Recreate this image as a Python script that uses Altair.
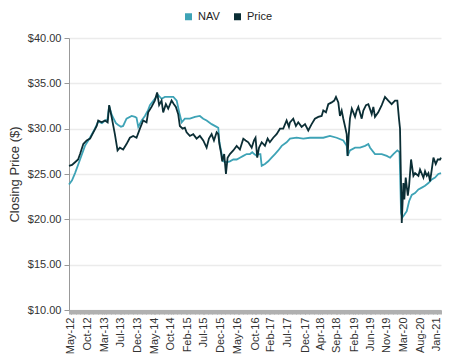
import altair as alt
import pandas as pd

# ---- data ----
price_dates = [
    "2012-05-14", "2012-06-09", "2012-07-05", "2012-07-31", "2012-08-17", "2012-09-14", "2012-10-13",
    "2012-11-11", "2012-12-09", "2013-01-07", "2013-01-20", "2013-02-18", "2013-03-19", "2013-04-11",
    "2013-04-24", "2013-05-15", "2013-06-12", "2013-07-05", "2013-07-25", "2013-08-22", "2013-09-20",
    "2013-10-19", "2013-11-16", "2013-12-15", "2014-01-13", "2014-02-10", "2014-03-11", "2014-03-25",
    "2014-04-23", "2014-05-21", "2014-06-10", "2014-06-27", "2014-07-18", "2014-08-01", "2014-08-24",
    "2014-09-13", "2014-10-12", "2014-11-01", "2014-11-18", "2014-12-08", "2014-12-22", "2015-01-15",
    "2015-02-03", "2015-02-18", "2015-03-18", "2015-04-16", "2015-05-15", "2015-06-12", "2015-07-11",
    "2015-08-09", "2015-08-29", "2015-09-21", "2015-10-11", "2015-11-03", "2015-11-17", "2015-11-27",
    "2015-12-10", "2015-12-21", "2016-01-07", "2016-01-22", "2016-02-05", "2016-02-25", "2016-03-25",
    "2016-04-23", "2016-05-21", "2016-06-19", "2016-07-09", "2016-08-01", "2016-08-30", "2016-09-19",
    "2016-10-02", "2016-10-17", "2016-11-01", "2016-11-24", "2016-12-22", "2017-01-14", "2017-02-02",
    "2017-03-03", "2017-04-01", "2017-04-30", "2017-05-28", "2017-06-26", "2017-07-16", "2017-07-25",
    "2017-08-22", "2017-09-14", "2017-10-04", "2017-11-02", "2017-12-01", "2017-12-29", "2018-01-27",
    "2018-02-24", "2018-03-25", "2018-04-23", "2018-05-07", "2018-05-30", "2018-06-19", "2018-07-18",
    "2018-08-09", "2018-08-24", "2018-09-13", "2018-09-27", "2018-10-12", "2018-10-26", "2018-11-09",
    "2018-11-24", "2018-12-02", "2018-12-11", "2018-12-22", "2019-01-07", "2019-01-20", "2019-02-04",
    "2019-02-18", "2019-03-04", "2019-04-02", "2019-04-16", "2019-05-09", "2019-05-29", "2019-06-27",
    "2019-07-11", "2019-07-25", "2019-08-22", "2019-09-21", "2019-10-19", "2019-11-16", "2019-12-15",
    "2020-01-13", "2020-02-02", "2020-02-16", "2020-02-25", "2020-03-05", "2020-03-11", "2020-03-25",
    "2020-04-02", "2020-04-14", "2020-05-02", "2020-05-13", "2020-05-30", "2020-06-19", "2020-07-03",
    "2020-08-01", "2020-08-15", "2020-09-13", "2020-09-27", "2020-10-12", "2020-10-26", "2020-11-09",
    "2020-11-24", "2020-12-08", "2020-12-28", "2021-01-14", "2021-02-03", "2021-02-11",
]
price_values = [
    25.9, 26.0, 26.3, 26.6, 27.2, 28.3, 28.7,
    28.9, 29.6, 30.3, 30.9, 30.7, 30.9, 30.7,
    32.6, 31.3, 29.4, 27.6, 27.9, 27.7, 28.3,
    29.0, 29.2, 29.0, 30.0, 30.9, 30.7, 31.8,
    32.4, 33.1, 34.0, 32.6, 33.1, 31.8, 32.7,
    32.2, 33.1, 32.7, 32.4, 31.6, 30.3, 30.0,
    30.1, 29.6, 29.2, 29.4, 28.9, 29.2, 28.7,
    27.9, 28.9, 29.4, 28.7, 29.6, 29.4, 28.3,
    27.4, 26.4, 27.2, 25.0, 26.8, 27.2, 27.6,
    28.1, 27.7, 28.9, 28.7, 28.5, 27.9, 28.7,
    29.0, 26.8, 27.9, 28.5, 28.1, 28.9, 28.5,
    29.0, 29.4, 30.0, 30.0, 30.9, 30.2, 30.7,
    31.1, 30.3, 30.7, 30.2, 30.5, 29.8, 30.5,
    31.1, 31.3, 31.4, 32.0, 31.8, 32.7, 32.9,
    33.1, 33.5, 32.9, 31.4, 32.0, 31.1, 30.3,
    29.4, 27.0, 29.2, 31.1, 32.2, 31.8, 31.3,
    32.0, 32.4, 31.1, 32.0, 32.6, 32.7, 31.6,
    32.4, 31.3, 31.8, 32.6, 33.5, 33.1, 32.7,
    33.1, 33.1, 31.1, 30.0, 23.7, 19.6, 24.0,
    22.2, 24.6, 22.6, 23.7, 26.6, 24.8, 25.1,
    24.8, 25.5, 24.6, 25.3, 24.8, 25.1, 24.2,
    25.5, 26.8, 26.1, 26.6, 26.6, 26.8,
]

nav_dates = [
    "2012-05-14", "2012-06-09", "2012-07-05", "2012-08-17", "2012-09-28", "2012-11-10", "2012-12-23",
    "2013-01-20", "2013-02-21", "2013-03-19", "2013-04-09", "2013-04-24", "2013-05-14", "2013-05-29",
    "2013-06-21", "2013-07-11", "2013-08-03", "2013-08-22", "2013-09-20", "2013-11-03", "2013-12-02",
    "2013-12-15", "2013-12-30", "2014-01-28", "2014-02-25", "2014-03-23", "2014-04-09", "2014-05-21",
    "2014-06-19", "2014-07-18", "2014-08-16", "2014-09-28", "2014-10-27", "2014-11-25", "2014-12-17",
    "2015-01-07", "2015-02-03", "2015-03-18", "2015-05-01", "2015-06-12", "2015-07-11", "2015-08-09",
    "2015-09-21", "2015-11-03", "2015-11-17", "2015-11-27", "2015-12-10", "2015-12-29", "2016-01-28",
    "2016-02-25", "2016-03-25", "2016-04-23", "2016-05-21", "2016-06-19", "2016-07-18", "2016-08-15",
    "2016-09-04", "2016-09-21", "2016-10-12", "2016-10-26", "2016-11-13", "2016-11-24", "2016-12-22",
    "2017-01-19", "2017-02-17", "2017-03-18", "2017-04-15", "2017-05-15", "2017-06-26", "2017-07-25",
    "2017-09-20", "2017-11-16", "2018-01-13", "2018-03-11", "2018-05-07", "2018-07-03", "2018-08-30",
    "2018-10-26", "2018-11-24", "2018-12-02", "2018-12-22", "2019-02-04", "2019-03-19", "2019-05-01",
    "2019-05-29", "2019-06-13", "2019-07-25", "2019-09-21", "2019-11-03", "2019-12-02", "2019-12-30",
    "2020-02-02", "2020-02-21", "2020-03-05", "2020-03-16", "2020-04-02", "2020-04-23", "2020-05-13",
    "2020-06-05", "2020-07-03", "2020-08-01", "2020-08-30", "2020-09-27", "2020-10-26", "2020-11-24",
    "2020-12-22", "2021-01-19", "2021-02-11",
]
nav_values = [
    23.85, 24.3, 25.1, 26.6, 28.1, 29.0, 30.0,
    30.8, 30.6, 30.9, 31.0, 32.5, 31.6, 31.2,
    30.6, 30.4, 30.2, 30.3, 31.1, 31.4, 31.3,
    31.2, 30.2, 30.9, 31.4, 32.0, 32.6, 33.3,
    33.7, 33.3, 33.5, 33.5, 33.5, 33.1, 31.8,
    30.7, 31.1, 31.1, 31.3, 31.4, 31.1, 30.9,
    30.5, 30.2, 30.1, 28.5, 27.6, 26.4, 26.3,
    26.4, 26.6, 26.6, 26.8, 27.0, 27.2, 27.2,
    27.4, 27.2, 27.0, 27.2, 27.2, 25.9, 26.1,
    26.4, 26.8, 27.2, 27.6, 28.1, 28.5, 28.9,
    29.0, 28.9, 29.0, 29.0, 29.0, 29.2, 29.0,
    28.7, 28.1, 27.0, 27.6, 27.9, 27.9, 28.1,
    28.3, 27.9, 27.2, 27.2, 27.0, 26.8, 27.2,
    27.6, 27.4, 20.7, 20.2, 20.5, 20.9, 22.0,
    22.7, 22.9, 23.3, 23.5, 23.7, 24.0, 24.4,
    24.6, 25.0, 25.1,
]

series_names = ["NAV", "Price"]
series_colors = ["#3ea3b6", "#0b2e35"]

label_dates = [
    "2012-05-31", "2012-10-21", "2013-03-12", "2013-07-31", "2013-12-23", "2014-05-15",
    "2014-10-04", "2015-02-24", "2015-07-17", "2015-12-07", "2016-05-01", "2016-10-01",
    "2017-02-07", "2017-07-01", "2017-12-01", "2018-04-11", "2018-09-01", "2019-02-01",
    "2019-06-14", "2019-11-04", "2020-03-25", "2020-08-15", "2021-01-05",
]
y_ticks = [10, 15, 20, 25, 30, 35, 40]

# ---- build table ----
df = pd.concat([
    pd.DataFrame({"date": nav_dates, "value": nav_values, "series": "NAV"}),
    pd.DataFrame({"date": price_dates, "value": price_values, "series": "Price"}),
], ignore_index=True)

def to_ms(s):
    return int(pd.Timestamp(s, tz="UTC").value // 10**6)

label_ms = [to_ms(d) for d in label_dates]
dense_ms = [int(t.value // 10**6) for t in pd.date_range(
    pd.Timestamp(min(price_dates), tz="UTC"), pd.Timestamp(max(price_dates), tz="UTC"), freq="7D")]
tick_ms = sorted(set(dense_ms) | set(label_ms))

label_expr = ("indexof([" + ",".join(str(v) for v in label_ms) + "], time(datum.value)) >= 0 ? "
              "utcFormat(datum.value, '%b-%y') : ''")

FONT = "Liberation Sans"

chart = alt.Chart(df).mark_line(strokeWidth=1.8).encode(
    x=alt.X("date:T",
            scale=alt.Scale(type="utc", nice=False),
            axis=alt.Axis(values=tick_ms, labelExpr=label_expr, labelAngle=270,
                          labelOverlap=False, labelFlush=False, labelBound=False,
                          grid=False, tickSize=4, tickColor="#b0b0b0", tickWidth=1,
                          domainColor="#b0b0b0", labelFontSize=11, labelColor="#333333",
                          labelPadding=3, labelFont=FONT, title=None)),
    y=alt.Y("value:Q",
            scale=alt.Scale(domain=[10, 40], nice=False, zero=False),
            axis=alt.Axis(values=y_ticks, format="$.2f", title="Closing Price ($)",
                          grid=True, gridColor="#ebebeb", gridWidth=1.5,
                          domainColor="#999999", tickColor="#999999", tickSize=5,
                          labelFontSize=11, labelColor="#333333", labelPadding=3,
                          labelFont=FONT, titleFont=FONT, titleFontSize=13,
                          titleFontWeight="normal", titleColor="#333333", titlePadding=6)),
    color=alt.Color("series:N",
                    scale=alt.Scale(domain=series_names, range=series_colors),
                    legend=alt.Legend(title=None, orient="none", legendX=114, legendY=-27,
                                      direction="horizontal", symbolType="square",
                                      symbolSize=4, symbolStrokeWidth=5, labelFontSize=11,
                                      labelFont=FONT, labelColor="#222222", labelOffset=4,
                                      columnPadding=6)),
).properties(
    width=372, height=272,
    autosize=alt.AutoSizeParams(type="none"),
    padding={"left": 61, "top": 30, "right": 4, "bottom": 50},
).configure_view(stroke=None)

chart.save("out.html", embed_options={"renderer": "svg", "actions": False})
